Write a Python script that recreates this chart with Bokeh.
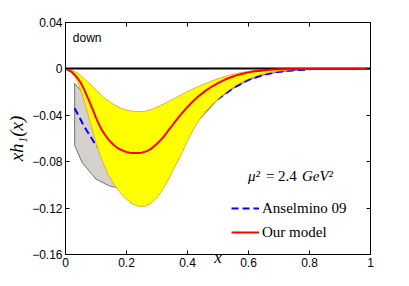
from bokeh.plotting import figure
from bokeh.models import Range1d, LinearAxis, FixedTicker, Label, Legend, LegendItem
from bokeh.embed import file_html
from bokeh.resources import INLINE

# --- data ---
# "Our model" central curve
x_model = [0, 0.01, 0.02, 0.03, 0.04, 0.05, 0.06, 0.07, 0.08, 0.09, 0.1, 0.11, 0.12, 0.13,
           0.14, 0.15, 0.16, 0.17, 0.18, 0.19, 0.2, 0.21, 0.22, 0.23, 0.24, 0.25, 0.26,
           0.27, 0.28, 0.29, 0.3, 0.31, 0.32, 0.33, 0.34, 0.35, 0.36, 0.37, 0.38, 0.39,
           0.4, 0.42, 0.44, 0.46, 0.48, 0.5, 0.52, 0.54, 0.56, 0.58, 0.6, 0.62, 0.64,
           0.67, 0.7, 0.75, 0.8, 0.9, 1.0]
model = [0, -0.001, -0.0025, -0.005, -0.008, -0.012, -0.017, -0.023, -0.029, -0.0355,
         -0.042, -0.048, -0.053, -0.057, -0.0605, -0.0635, -0.066, -0.068, -0.0695,
         -0.0707, -0.0716, -0.0722, -0.0725, -0.0726, -0.0725, -0.0722, -0.0715, -0.0705,
         -0.069, -0.0668, -0.0645, -0.062, -0.059, -0.0557, -0.0522, -0.0488, -0.0453,
         -0.042, -0.0388, -0.0357, -0.0328, -0.0275, -0.0228, -0.0187, -0.0152, -0.0122,
         -0.0096, -0.0074, -0.0056, -0.0042, -0.003, -0.0021, -0.0015, -0.0008, -0.0004,
         -0.0001, 0, 0, 0]

# "Our model" uncertainty band
x_band = [0, 0.02, 0.04, 0.06, 0.08, 0.1, 0.12, 0.14, 0.16, 0.18, 0.2, 0.22, 0.24, 0.26,
          0.28, 0.3, 0.32, 0.34, 0.36, 0.38, 0.4, 0.42, 0.44, 0.46, 0.48, 0.5, 0.52, 0.54,
          0.56, 0.58, 0.6, 0.62, 0.64, 0.67, 0.7, 0.75, 0.8, 1.0]
band_up = [0, -0.001, -0.0035, -0.008, -0.013, -0.018, -0.0235, -0.0275, -0.031, -0.0338,
           -0.0355, -0.0365, -0.0368, -0.0366, -0.0352, -0.033, -0.0305, -0.0278, -0.025,
           -0.0222, -0.0195, -0.017, -0.0147, -0.0125, -0.0103, -0.0085, -0.0068, -0.0053,
           -0.004, -0.003, -0.0021, -0.0015, -0.001, -0.0005, -0.0003, -0.0001, 0, 0]
band_lo = [0, -0.003, -0.011, -0.026, -0.045, -0.064, -0.079, -0.091, -0.1, -0.107,
           -0.1125, -0.1165, -0.1185, -0.1185, -0.116, -0.111, -0.1035, -0.094, -0.0835,
           -0.0735, -0.062, -0.052, -0.0435, -0.0365, -0.031, -0.026, -0.0215, -0.0175,
           -0.014, -0.011, -0.0085, -0.0065, -0.0048, -0.003, -0.0018, -0.0006, -0.0001, 0]

# Anselmino 09 band
x_ans_band = [0.03, 0.055, 0.1, 0.145, 0.2, 0.3, 0.4, 0.5, 0.55, 0.6, 0.65, 0.7, 0.75, 0.8]
ans_up = [-0.0125, -0.02, -0.035, -0.045, -0.05, -0.045, -0.03, -0.017, -0.011, -0.006,
          -0.003, -0.0015, -0.0007, -0.0003]
ans_lo = [-0.066, -0.081, -0.095, -0.101, -0.104, -0.10, -0.055, -0.026, -0.0168, -0.0097,
          -0.0052, -0.0026, -0.0013, -0.0005]

# Anselmino 09 curve
x_ans = [0.03, 0.06, 0.1, 0.15, 0.2, 0.3, 0.4, 0.5, 0.55, 0.6, 0.65, 0.7, 0.75, 0.8]
ans = [-0.034, -0.049, -0.066, -0.076, -0.078, -0.068, -0.045, -0.026, -0.0165, -0.0095,
       -0.005, -0.0025, -0.0012, -0.0005]

zero_level = [0]

x_ticks = [0, 0.2, 0.4, 0.6, 0.8, 1]
x_tick_labels = ["0", "0.2", "0.4", "0.6", "0.8", "1"]
y_ticks = [0.04, 0, -0.04, -0.08, -0.12, -0.16]
y_tick_labels = ["0.04", "0", "\u22120.04", "\u22120.08", "\u22120.12", "\u22120.16"]

SANS = "Liberation Sans"
SERIF = "Liberation Serif"

p = figure(width=393, height=270, output_backend="svg", toolbar_location=None,
           x_range=Range1d(0, 1), y_range=Range1d(-0.16, 0.04),
           min_border_left=65, min_border_right=23, min_border_top=22,
           min_border_bottom=16)
p.grid.visible = False
p.outline_line_color = "black"
p.outline_line_width = 1
p.background_fill_color = "white"
p.border_fill_color = "white"

# Anselmino band (gray)
p.patch(x_ans_band + x_ans_band[::-1], ans_up + ans_lo[::-1],
        fill_color="#d4d1cd", line_color="#555555", line_width=0.8)
# Anselmino 09 curve
r_ans = p.line(x_ans, ans, line_color="#0000ff", line_width=2, line_dash="7 4")
# model band (yellow)
p.varea(x=x_band, y1=band_lo, y2=band_up, fill_color="#ffff00")
p.line(x_band, band_up, line_color="#e3a63a", line_width=0.9)
p.line(x_band, band_lo, line_color="#e3a63a", line_width=0.9)
# zero line
p.hspan(y=zero_level, line_color="black", line_width=2)
# our model
r_mod = p.line(x_model, model, line_color="#ff0000", line_width=2)

# axes
def style_axis(ax, labels=True):
    ax.major_tick_in = 4
    ax.major_tick_out = 0
    ax.minor_tick_line_color = None
    ax.axis_line_color = "black"
    ax.major_tick_line_color = "black"
    ax.major_label_text_font = SANS
    ax.major_label_text_color = "black"
    if labels:
        ax.major_label_text_font_size = "12px"
        ax.major_label_standoff = 3
    else:
        ax.major_label_text_font_size = "1px"
        ax.major_label_text_color = None
        ax.major_label_text_alpha = 0
        ax.major_label_standoff = 0

xa = p.xaxis[0]
xa.ticker = FixedTicker(ticks=x_ticks)
xa.major_label_overrides = dict(zip(x_ticks, x_tick_labels))
style_axis(xa)
xa.axis_label = "x"
xa.axis_label_text_font = SERIF
xa.axis_label_text_font_style = "italic"
xa.axis_label_text_font_size = "17px"
xa.axis_label_standoff = -22
xa.axis_label_text_color = "black"

ya = p.yaxis[0]
ya.ticker = FixedTicker(ticks=y_ticks)
ya.major_label_overrides = dict(zip(y_ticks, y_tick_labels))
style_axis(ya)
ya.axis_label = "xh\u2081(x)"
ya.axis_label_text_font = SERIF
ya.axis_label_text_font_style = "italic"
ya.axis_label_text_font_size = "19px"
ya.axis_label_standoff = 2
ya.axis_label_text_color = "black"

top = LinearAxis(ticker=FixedTicker(ticks=x_ticks))
style_axis(top, labels=False)
p.add_layout(top, "above")
right = LinearAxis(ticker=FixedTicker(ticks=y_ticks))
style_axis(right, labels=False)
p.add_layout(right, "right")

# annotations
p.add_layout(Label(x=0.024, y=0.027, text="down", text_font=SANS, text_font_size="12px",
                   text_baseline="middle", text_color="black"))
p.add_layout(Label(x=0.598, y=-0.092, text="\u03bc\u00b2", text_font=SERIF,
                   text_font_style="italic", text_font_size="15px",
                   text_baseline="middle", text_color="black"))
p.add_layout(Label(x=0.598, y=-0.092, x_offset=18, text="= 2.4", text_font=SERIF,
                   text_font_size="15px", text_baseline="middle", text_color="black"))
p.add_layout(Label(x=0.598, y=-0.092, x_offset=54, text="GeV\u00b2", text_font=SERIF,
                   text_font_style="italic", text_font_size="15px",
                   text_baseline="middle", text_color="black"))

legend = Legend(items=[LegendItem(label="Anselmino 09", renderers=[r_ans]),
                       LegendItem(label="Our model", renderers=[r_mod])],
                location=(166, 12), glyph_width=28, glyph_height=20, label_height=20,
                spacing=4, padding=0, margin=0, label_standoff=3,
                border_line_alpha=0, background_fill_alpha=0,
                label_text_font=SERIF, label_text_font_size="15px",
                label_text_color="black")
p.add_layout(legend)

open("out.html", "w").write(file_html(p, INLINE))
